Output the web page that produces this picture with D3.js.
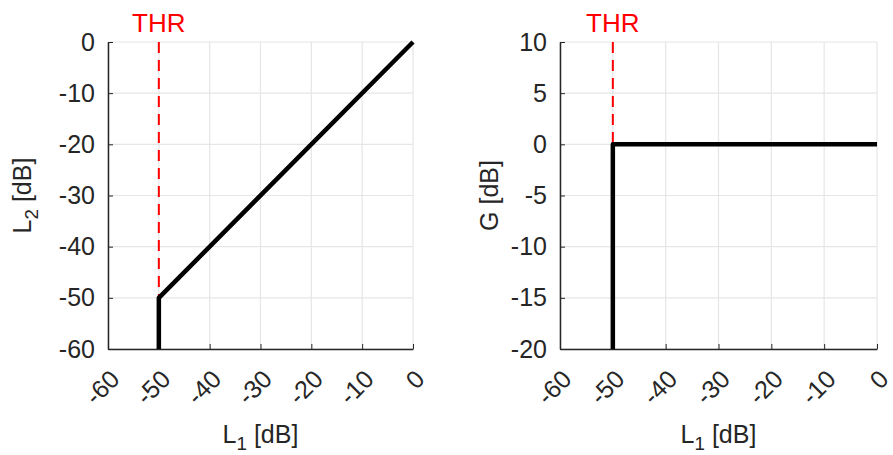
<!DOCTYPE html>
<html><head><meta charset="utf-8">
<script src="https://cdn.jsdelivr.net/npm/d3@7"></script>
<style>body{margin:0;background:#fff}svg{display:block}text{font-family:"Liberation Sans",Arial,Helvetica,sans-serif}</style>
</head><body><svg id="c" width="893" height="455"></svg>
<script>
const xTicks = [-60,-50,-40,-30,-20,-10,0];
const leftYTicks = [0,-10,-20,-30,-40,-50,-60];
const rightYTicks = [10,5,0,-5,-10,-15,-20];
const thr = -50;
const thrLabel = "THR";
const leftX = [-50,-50,0];
const leftY = [-60,-50,0];
const rightX = [-50,-50,0];
const rightY = [-20,0,0];

const svg = d3.select("#c");
const FS = 25, TXT = "#262626";
const fmt = d => String(d);

function panel(o){
  const x = d3.scaleLinear().domain([-60,0]).range([o.x0,o.x1]);
  const y = d3.scaleLinear().domain(o.ydom).range([o.y1,o.y0]);
  const g = svg.append("g");
  // grid
  g.selectAll(".gx").data(xTicks).join("line")
    .attr("x1",d=>x(d)).attr("x2",d=>x(d)).attr("y1",o.y0).attr("y2",o.y1)
    .attr("stroke","#e6e6e6").attr("stroke-width",1.2);
  g.selectAll(".gy").data(o.yTicks).join("line")
    .attr("y1",d=>y(d)).attr("y2",d=>y(d)).attr("x1",o.x0).attr("x2",o.x1)
    .attr("stroke","#e6e6e6").attr("stroke-width",1.2);
  // axes
  const ax = d3.axisBottom(x).tickValues(xTicks).tickSize(-5).tickSizeOuter(0).tickFormat(fmt);
  const gx = g.append("g").attr("transform",`translate(0,${o.y1})`).call(ax);
  gx.select(".domain").attr("stroke",TXT).attr("stroke-width",1.5);
  gx.selectAll(".tick line").attr("stroke",TXT);
  gx.selectAll(".tick text").attr("fill",TXT).attr("font-size",FS)
    .attr("text-anchor","end").attr("dy",null).attr("y",null)
    .attr("transform","translate(8,27) rotate(-45)").attr("dominant-baseline","middle");
  const ay = d3.axisLeft(y).tickValues(o.yTicks).tickSize(-5).tickSizeOuter(0).tickPadding(13).tickFormat(fmt);
  const gy = g.append("g").attr("transform",`translate(${o.x0},0)`).call(ay);
  gy.select(".domain").attr("stroke",TXT).attr("stroke-width",1.5);
  gy.selectAll(".tick line").attr("stroke",TXT);
  gy.selectAll(".tick text").attr("fill",TXT).attr("font-size",FS);
  g.selectAll("path.domain, .tick").attr("font-family",null);
  // threshold
  g.append("line").attr("x1",x(thr)).attr("x2",x(thr)).attr("y1",o.y0).attr("y2",y(o.thrTop))
    .attr("stroke","#ff0000").attr("stroke-width",2).attr("stroke-dasharray","11,7");
  g.append("text").attr("x",x(thr)).attr("y",o.y0-10).attr("text-anchor","middle")
    .attr("fill","#ff0000").attr("font-size",FS+1).text(thrLabel);
  // curve
  const pts = o.cx.map((v,i)=>[v,o.cy[i]]);
  g.append("path").attr("d",d3.line().x(d=>x(d[0])).y(d=>y(d[1]))(pts))
    .attr("fill","none").attr("stroke","#000").attr("stroke-width",4.5).attr("stroke-linejoin","round");
  // x label
  const xl = g.append("text").attr("x",(o.x0+o.x1)/2).attr("y",443).attr("text-anchor","middle")
    .attr("fill",TXT).attr("font-size",FS);
  xl.append("tspan").text("L");
  xl.append("tspan").attr("font-size",FS*0.75).attr("dy",7).text("1");
  xl.append("tspan").attr("dy",-7).text(" [dB]");
  // y label
  const yl = g.append("text").attr("transform",`translate(${o.ylx},${(o.y0+o.y1)/2}) rotate(-90)`)
    .attr("text-anchor","middle").attr("fill",TXT).attr("font-size",FS);
  o.ylab.forEach(p=>{
    const t = yl.append("tspan").text(p.t);
    if(p.sub){ t.attr("font-size",FS*0.75).attr("dy",7); }
    if(p.after){ t.attr("dy",-7); }
  });
}

panel({x0:108,x1:413,y0:42,y1:349,ydom:[-60,0],yTicks:leftYTicks,thrTop:-50,cx:leftX,cy:leftY,ylx:31,
  ylab:[{t:"L"},{t:"2",sub:true},{t:" [dB]",after:true}]});
panel({x0:560,x1:877,y0:42,y1:349,ydom:[-20,10],yTicks:rightYTicks,thrTop:0,cx:rightX,cy:rightY,ylx:498,
  ylab:[{t:"G [dB]"}]});
</script></body></html>
